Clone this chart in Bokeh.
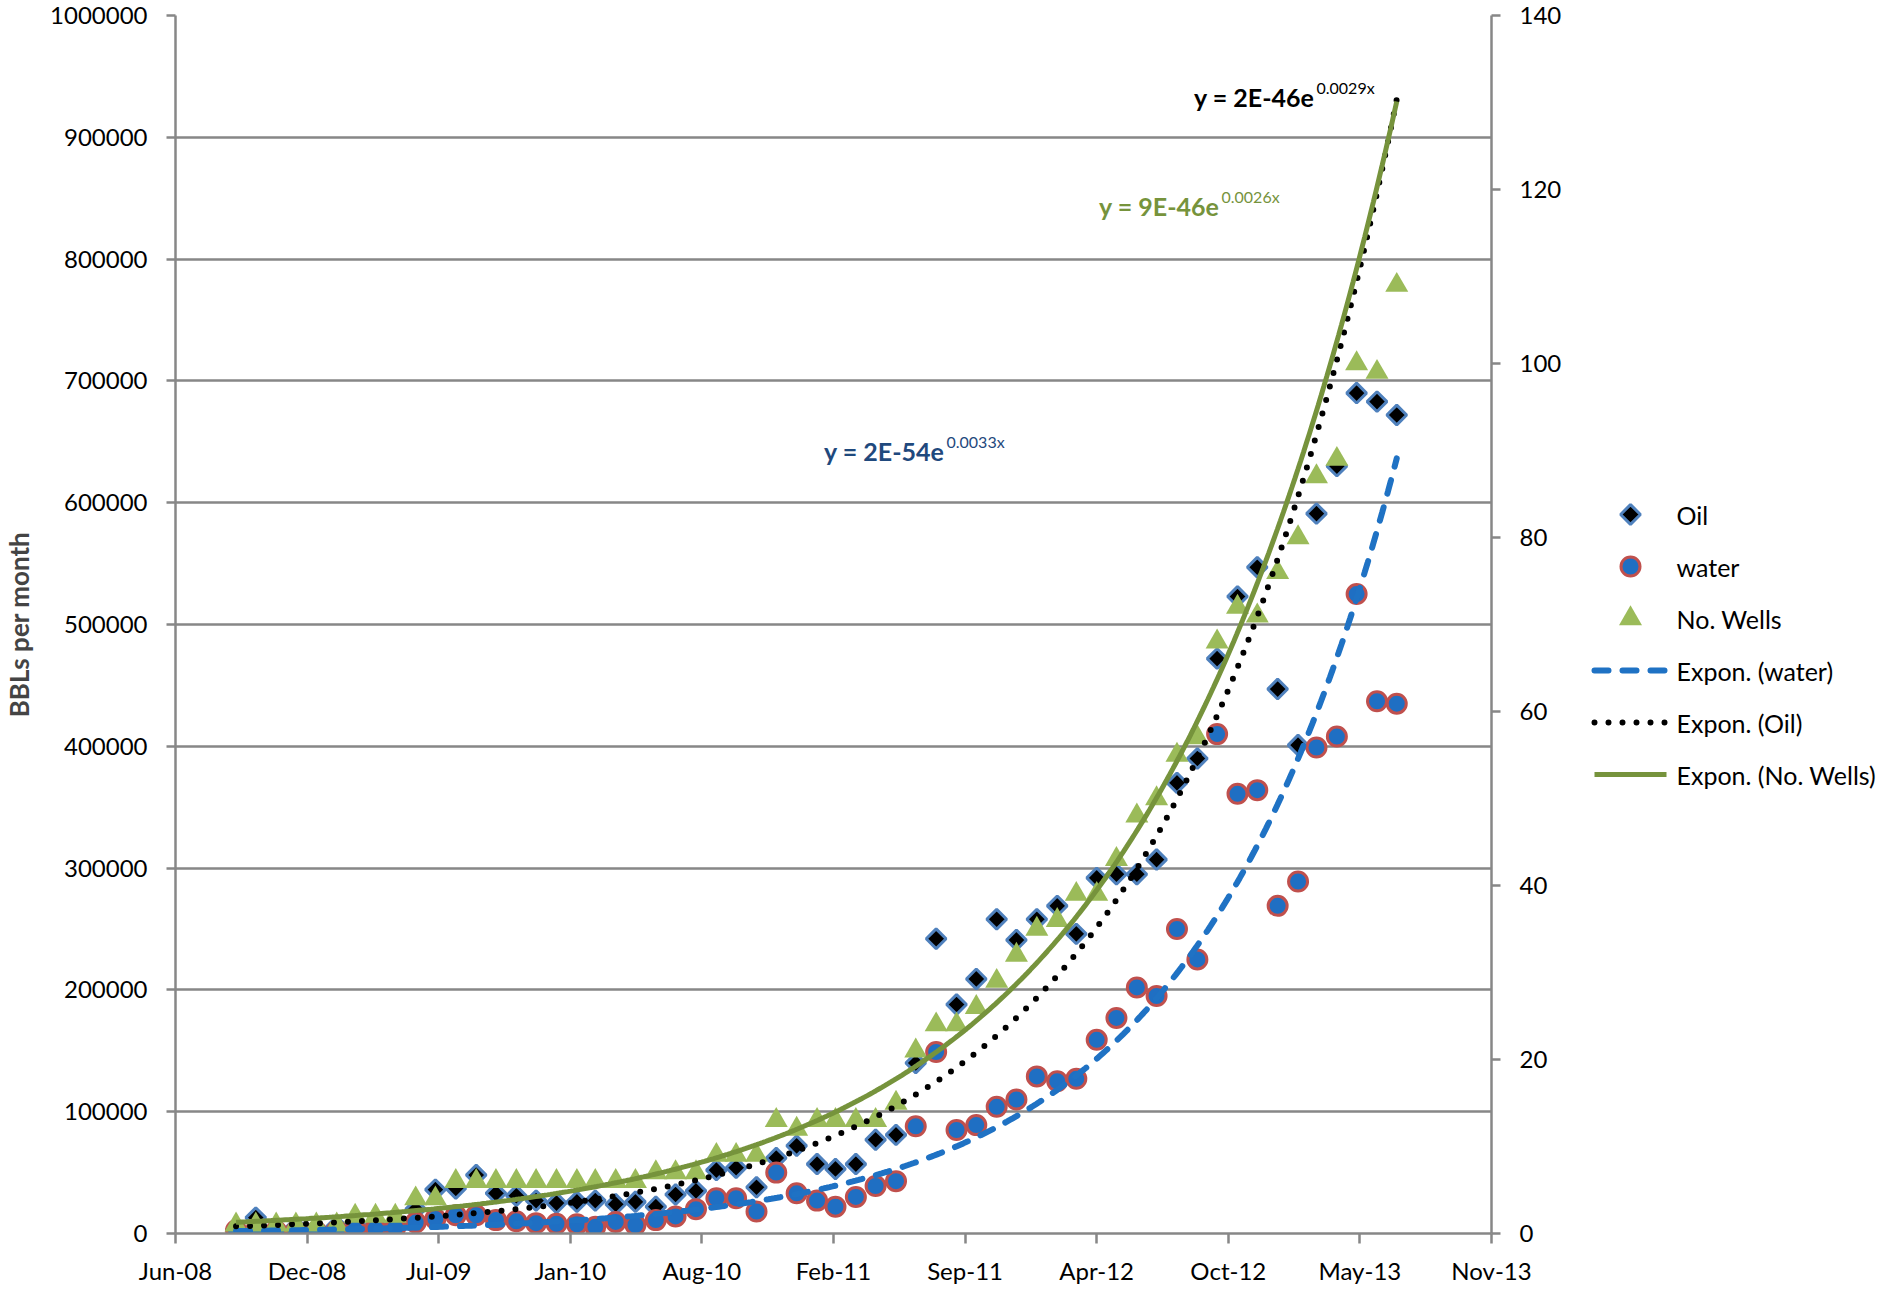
import numpy as np
import pandas as pd
from bokeh.plotting import figure
from bokeh.layouts import row
from bokeh.models import (Range1d, LinearAxis, FixedTicker, Label, ColumnDataSource,
                          NumeralTickFormatter)
from bokeh.core.properties import value
from bokeh.embed import file_html
from bokeh.resources import INLINE

# ---------------- data ----------------
months = ["2008-09", "2008-10", "2008-11", "2008-12", "2009-01", "2009-02", "2009-03",
          "2009-04", "2009-05", "2009-06", "2009-07", "2009-08", "2009-09", "2009-10",
          "2009-11", "2009-12", "2010-01", "2010-02", "2010-03", "2010-04", "2010-05",
          "2010-06", "2010-07", "2010-08", "2010-09", "2010-10", "2010-11", "2010-12",
          "2011-01", "2011-02", "2011-03", "2011-04", "2011-05", "2011-06", "2011-07",
          "2011-08", "2011-09", "2011-10", "2011-11", "2011-12", "2012-01", "2012-02",
          "2012-03", "2012-04", "2012-05", "2012-06", "2012-07", "2012-08", "2012-09",
          "2012-10", "2012-11", "2012-12", "2013-01", "2013-02", "2013-03", "2013-04",
          "2013-05", "2013-06", "2013-07"]

oil = [3000, 13000, 4000, 5000, 4000, 6000, 7000, 7000, 9000, 20000, 36000, 37000,
       48000, 33000, 31000, 27000, 25000, 26000, 27000, 24000, 26000, 22000, 32000,
       35000, 52000, 54000, 38000, 62000, 72000, 57000, 53000, 57000, 77000, 81000,
       140000, 242000, 188000, 209000, 258000, 241000, 258000, 269000, 246000, 292000,
       295000, 295000, 307000, 370000, 390000, 472000, 523000, 547000, 447000, 401000,
       591000, 630000, 690000, 683000, 672000]

water = [2700, 2200, 2000, 1700, 1400, 2000, 3200, 4000, 4700, 9000, 12000, 15000,
         15000, 11000, 10000, 8500, 8000, 7500, 5500, 9500, 7000, 11000, 14000, 20000,
         29000, 29000, 18000, 50000, 33000, 27000, 22000, 30000, 39000, 43000, 88000,
         149000, 85000, 89000, 104000, 110000, 129000, 125000, 127000, 159000, 177000,
         202000, 195000, 250000, 225000, 410000, 361000, 364000, 269000, 289000, 399000,
         408000, 525000, 437000, 435000]

wells = [1, 1, 1, 1, 1, 1, 2, 2, 2, 4, 4, 6, 6, 6, 6, 6, 6, 6, 6, 6, 6, 7, 7, 7, 9, 9,
         9, 13, 12, 13, 13, 13, 13, 15, 21, 24, 24, 26, 29, 32, 35, 36, 39, 39, 43, 48,
         50, 55, 57, 68, 72, 71, 76, 80, 87, 89, 100, 99, 109]

x_tick_labels = ["Jun-08", "Dec-08", "Jul-09", "Jan-10", "Aug-10", "Feb-11", "Sep-11",
                 "Apr-12", "Oct-12", "May-13", "Nov-13"]
left_ticks = [0, 100000, 200000, 300000, 400000, 500000, 600000, 700000, 800000,
              900000, 1000000]
right_ticks = [0, 20, 40, 60, 80, 100, 120, 140]

legend_labels = ["Oil", "water", "No. Wells", "Expon. (water)", "Expon. (Oil)",
                 "Expon. (No. Wells)"]

eq_oil = ("y = 2E-46e", "0.0029x")
eq_wells = ("y = 9E-46e", "0.0026x")
eq_water = ("y = 2E-54e", "0.0033x")

# ---------------- styles ----------------
FONT = "Lato"
GRID = "#878787"
OIL_STYLE = dict(marker="square", angle=np.pi / 4, size=14, fill_color="black",
                 line_color="#4F81BD", line_width=3)
WATER_STYLE = dict(marker="circle", size=19, fill_color="#1F6FC3", line_color="#C0504D",
                   line_width=3)
WELLS_STYLE = dict(marker="triangle", size=23, fill_color="#9BBB59", line_color=None)
T_WATER = dict(line_color="#1F72C4", line_width=6, line_dash="14 14", line_cap="round")
T_OIL = dict(line_color="black", line_width=6, line_dash="0 14", line_cap="round")
T_WELLS = dict(line_color="#76933C", line_width=5)

EXCEL_EPOCH = pd.Timestamp("1899-12-30")
dates = pd.to_datetime([m + "-01" for m in months])
xs = np.array([(d - EXCEL_EPOCH).days for d in dates], dtype=float)   # Excel serial days

x_start = (pd.Timestamp("2008-06-01") - EXCEL_EPOCH).days              # 39600
x_major = 200                                                           # days
x_ticks = [x_start + x_major * i for i in range(len(x_tick_labels))]
x_end = x_ticks[-1]


def expon_fit(x, y):
    """Excel-style exponential trend: least squares on ln(y)."""
    b, ln_a = np.polyfit(x, np.log(np.asarray(y, dtype=float)), 1)
    tx = np.linspace(x.min(), x.max(), 400)
    return tx, np.exp(ln_a + b * tx)


tx, t_oil = expon_fit(xs, oil)
_, t_water = expon_fit(xs, water)
_, t_wells = expon_fit(xs, wells)

src = ColumnDataSource(dict(x=xs, oil=oil, water=water, wells=wells))
trend = ColumnDataSource(dict(x=tx, oil=t_oil, water=t_water, wells=t_wells))

# ---------------- main figure ----------------
FRAME_LEFT, FRAME_TOP, FRAME_W, FRAME_H = 175, 15, 1316, 1218
FRAME_BOTTOM = FRAME_TOP + FRAME_H
MAIN_RIGHT, BOTTOM = 85, 48

p = figure(frame_width=FRAME_W, frame_height=FRAME_H, title=None,
           min_border_left=FRAME_LEFT, min_border_right=MAIN_RIGHT,
           min_border_top=FRAME_TOP, min_border_bottom=BOTTOM,
           x_range=Range1d(x_start, x_end), y_range=Range1d(0, 1000000),
           output_backend="svg", toolbar_location=None)
p.extra_y_ranges = {"wells": Range1d(0, 140)}
p.outline_line_color = None
p.background_fill_color = "white"
p.border_fill_color = "white"
p.xgrid.visible = False
p.ygrid.ticker = FixedTicker(ticks=left_ticks)
p.ygrid.grid_line_color = GRID
p.ygrid.grid_line_width = 2.5

right_axis = LinearAxis(y_range_name="wells")
p.add_layout(right_axis, "right")


def style_axis(ax, tick_out=9, standoff=19):
    ax.axis_line_color = GRID
    ax.axis_line_width = 2.5
    ax.major_tick_line_color = GRID
    ax.major_tick_line_width = 2.5
    ax.major_tick_out = tick_out
    ax.major_tick_in = 0
    ax.minor_tick_line_color = None
    ax.major_label_text_font = FONT
    ax.major_label_text_font_size = "24px"
    ax.major_label_text_color = "black"
    ax.major_label_standoff = standoff


xa = p.xaxis[0]
style_axis(xa, tick_out=10, standoff=12)
xa.ticker = FixedTicker(ticks=x_ticks)
xa.major_label_overrides = {t: lab for t, lab in zip(x_ticks, x_tick_labels)}

ya = p.yaxis[0]
style_axis(ya)
ya.ticker = FixedTicker(ticks=left_ticks)
ya.formatter = NumeralTickFormatter(format="0")
ya.axis_label = "BBLs per month"
ya.axis_label_text_font = FONT
ya.axis_label_text_font_style = "bold"
ya.axis_label_text_font_size = "26px"
ya.axis_label_standoff = 12

style_axis(right_axis)
right_axis.ticker = FixedTicker(ticks=right_ticks)

# series
p.scatter("x", "oil", source=src, **OIL_STYLE)
p.scatter("x", "water", source=src, **WATER_STYLE)
p.scatter("x", "wells", source=src, y_range_name="wells", **WELLS_STYLE)
p.line("x", "water", source=trend, **T_WATER)
p.line("x", "oil", source=trend, **T_OIL)
p.line("x", "wells", source=trend, y_range_name="wells", **T_WELLS)


# trendline equations (positions given in page pixels)
def equation(parts, x_join, base_main, base_sup, color):
    main, sup = parts
    p.add_layout(Label(x=x_join - FRAME_LEFT, y=FRAME_BOTTOM - base_main, x_units="screen",
                       y_units="screen", text=main, text_align="right",
                       text_baseline="alphabetic", text_font=FONT, text_font_style="bold",
                       text_font_size="25px", text_color=color))
    p.add_layout(Label(x=x_join + 2 - FRAME_LEFT, y=FRAME_BOTTOM - base_sup, x_units="screen",
                       y_units="screen", text=sup, text_align="left",
                       text_baseline="alphabetic", text_font=FONT,
                       text_font_size="16px", text_color=color))


equation(eq_oil, 1314, 96, 87, "black")
equation(eq_wells, 1219, 205, 196, "#76933C")
equation(eq_water, 944, 450, 441, "#1F497D")

# ---------------- legend panel (second figure; data units = page pixels) ----------------
MAIN_W = FRAME_LEFT + FRAME_W + MAIN_RIGHT
LEG_W = 310
lg = figure(frame_width=LEG_W, frame_height=FRAME_H, title=None,
            min_border_left=0, min_border_right=0,
            min_border_top=FRAME_TOP, min_border_bottom=BOTTOM,
            x_range=Range1d(MAIN_W, MAIN_W + LEG_W),
            y_range=Range1d(FRAME_BOTTOM, FRAME_TOP),
            x_axis_location=None, y_axis_location=None,
            output_backend="svg", toolbar_location=None)
lg.outline_line_color = None
lg.grid.visible = False
lg.background_fill_color = "white"
lg.border_fill_color = "white"

row_y = [514 + 52 * i for i in range(len(legend_labels))]   # page y of each legend row
mark_x, line_x0, line_x1, text_x = 1630, 1594, 1666, 1676    # page x

lg.scatter([mark_x], [row_y[0]], **OIL_STYLE)
lg.scatter([mark_x], [row_y[1]], **WATER_STYLE)
lg.scatter([mark_x], [row_y[2]], **WELLS_STYLE)
lg.line([line_x0, line_x1], [row_y[3]] * 2, **T_WATER)
lg.line([line_x0, line_x1], [row_y[4]] * 2, **T_OIL)
lg.line([line_x0, line_x1], [row_y[5]] * 2, **T_WELLS)
lg.text(x=[text_x] * len(legend_labels), y=row_y, text=legend_labels,
        text_baseline="middle", text_align="left", text_font=value(FONT),
        text_font_size="25px", text_color="black")

layout = row(p, lg, spacing=0)
open("out.html", "w").write(file_html(layout, INLINE))
